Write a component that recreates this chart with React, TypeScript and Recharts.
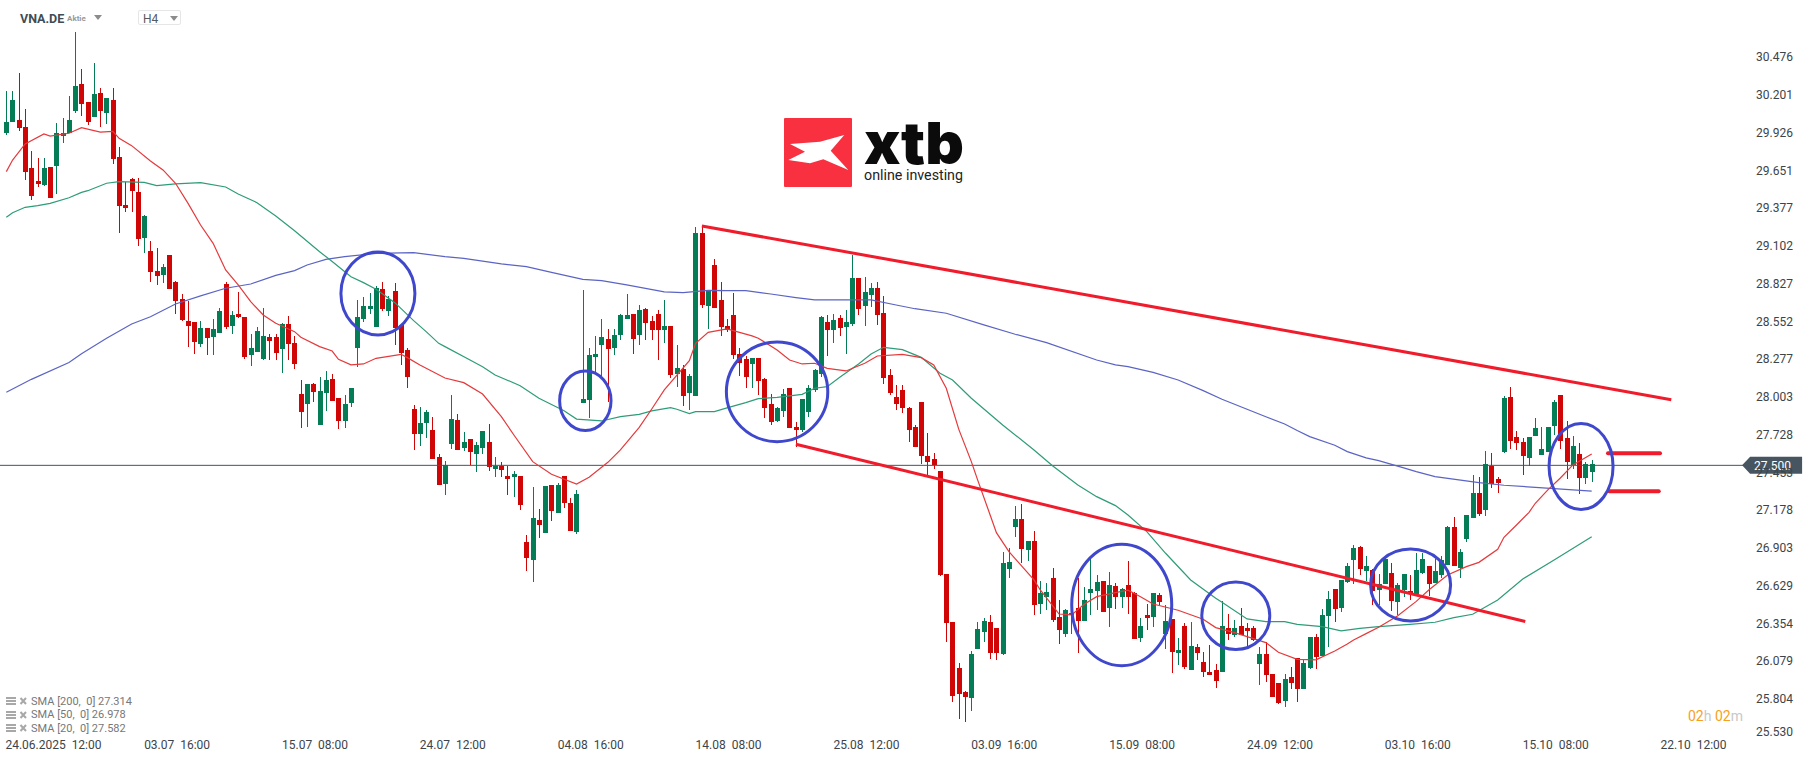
import { ComposedChart, Bar, Line, XAxis, YAxis, ReferenceLine, ReferenceDot } from "recharts";

// OHLC per H4 candle
const highs = [
  30.225,30.225,30.356,30.094,29.788,29.737,29.737,29.672,29.992,30.028,
  30.188,30.654,30.385,30.145,30.428,30.247,30.174,30.247,29.817,29.562,
  29.592,29.592,29.322,29.133,29.082,28.966,29.031,28.842,28.747,28.696,
  28.543,28.551,28.500,28.565,28.645,28.835,28.623,28.762,28.580,28.456,
  28.507,28.645,28.456,28.456,28.536,28.587,28.442,28.121,28.092,28.099,
  28.143,28.187,28.165,27.990,28.012,28.063,28.704,28.725,28.755,28.805,
  28.835,28.733,28.827,28.522,28.354,27.939,27.925,27.903,27.852,27.583,
  27.532,28.012,27.874,27.743,27.692,27.670,27.750,27.801,27.561,27.525,
  27.495,27.459,27.423,26.993,27.343,27.182,27.350,27.357,27.372,27.423,
  27.263,27.321,28.776,28.354,28.442,28.565,28.493,28.493,28.602,28.747,
  28.602,28.667,28.645,28.587,28.631,28.704,28.514,28.376,28.231,28.165,
  29.237,29.249,28.776,29.002,28.835,28.565,28.755,28.354,28.296,28.281,
  28.281,28.136,28.019,27.925,28.056,28.063,27.816,27.983,28.085,28.201,
  28.587,28.594,28.602,28.594,28.631,29.031,28.864,28.871,28.827,28.835,
  28.733,28.201,28.085,28.085,27.925,27.794,27.961,27.736,27.590,27.459,
  26.709,26.360,26.062,25.858,26.149,26.360,26.389,26.411,26.317,26.869,
  26.899,27.204,27.219,26.950,27.022,26.658,26.644,26.753,26.520,26.455,
  26.460,26.680,26.615,26.819,26.702,26.658,26.724,26.644,26.608,26.804,
  26.578,26.389,26.491,26.571,26.571,26.484,26.382,26.244,26.353,26.360,
  26.200,26.142,26.193,26.054,26.513,26.418,26.375,26.462,26.353,26.331,
  26.178,26.214,25.982,25.916,25.982,26.032,26.098,26.091,26.251,26.273,
  26.455,26.586,26.600,26.666,26.789,26.920,26.913,26.840,26.746,26.709,
  26.826,26.789,26.644,26.709,26.702,26.862,26.862,26.767,26.819,26.840,
  27.059,27.124,26.891,27.139,27.430,27.415,27.605,27.590,27.415,28.005,
  28.070,27.750,27.699,27.706,27.845,27.779,27.779,27.976,28.012,27.823,
  27.714,27.663,27.525,27.539,
];
const lows = [
  29.904,29.999,29.934,29.577,29.431,29.526,29.533,29.446,29.475,29.846,
  29.917,30.065,30.043,29.977,30.035,29.963,29.985,29.693,29.191,29.344,
  29.344,29.097,29.046,28.835,28.813,28.827,28.784,28.602,28.551,28.362,
  28.311,28.362,28.303,28.303,28.463,28.493,28.456,28.573,28.274,28.223,
  28.325,28.267,28.267,28.267,28.172,28.267,28.201,27.772,27.779,27.961,
  27.794,27.896,27.969,27.765,27.772,27.925,28.216,28.543,28.602,28.507,
  28.623,28.587,28.376,28.231,28.063,27.612,27.641,27.699,27.546,27.357,
  27.284,27.619,27.612,27.605,27.503,27.452,27.583,27.459,27.415,27.415,
  27.284,27.270,27.175,26.731,26.651,26.971,27.008,27.095,27.153,27.190,
  27.022,27.001,27.954,27.845,28.165,28.133,27.964,28.303,28.412,28.565,
  28.311,28.376,28.412,28.412,28.267,28.391,28.136,28.070,27.932,27.903,
  28.005,28.645,28.493,28.645,28.442,28.471,28.274,28.151,28.063,28.063,
  28.012,27.845,27.794,27.816,27.852,27.772,27.636,27.743,27.852,28.034,
  28.143,28.296,28.391,28.442,28.311,28.514,28.594,28.514,28.653,28.522,
  28.092,28.012,27.903,27.881,27.670,27.634,27.510,27.423,27.474,26.695,
  26.214,25.778,25.654,25.632,25.712,26.164,26.214,26.091,26.084,26.120,
  26.680,26.979,26.789,26.804,26.411,26.418,26.447,26.360,26.200,26.251,
  26.273,26.134,26.367,26.411,26.447,26.433,26.324,26.455,26.462,26.418,
  26.236,26.214,26.302,26.324,26.484,26.164,25.989,26.047,26.018,26.011,
  26.084,25.960,25.974,25.880,25.996,26.229,26.251,26.266,26.171,26.222,
  25.902,25.923,25.814,25.763,25.741,25.872,25.778,25.872,26.018,26.018,
  26.113,26.178,26.360,26.433,26.644,26.637,26.702,26.658,26.484,26.484,
  26.637,26.440,26.411,26.542,26.520,26.557,26.709,26.549,26.644,26.680,
  26.775,26.767,26.680,26.942,27.117,27.132,27.132,27.335,27.299,27.590,
  27.619,27.612,27.430,27.495,27.714,27.576,27.597,27.721,27.619,27.401,
  27.474,27.292,27.364,27.379,
];
const opens = [
  29.919,29.999,30.014,29.963,29.664,29.570,29.541,29.672,29.679,29.897,
  29.919,30.079,30.276,30.145,30.035,30.210,30.065,30.159,29.744,29.395,
  29.584,29.490,29.155,29.060,28.915,28.886,29.031,28.835,28.711,28.551,
  28.543,28.383,28.500,28.434,28.463,28.820,28.514,28.602,28.580,28.303,
  28.325,28.274,28.434,28.434,28.347,28.529,28.391,28.019,27.947,28.092,
  27.794,28.027,28.129,27.990,27.823,27.954,28.354,28.565,28.638,28.507,
  28.784,28.623,28.769,28.522,28.340,27.910,27.728,27.808,27.757,27.561,
  27.364,27.656,27.830,27.626,27.692,27.583,27.626,27.670,27.474,27.495,
  27.423,27.415,27.423,26.942,26.811,27.103,27.008,27.357,27.153,27.423,
  27.226,27.015,27.954,27.976,28.289,28.376,28.420,28.354,28.449,28.565,
  28.602,28.449,28.638,28.551,28.602,28.485,28.514,28.165,28.201,28.027,
  28.005,29.191,28.660,28.958,28.704,28.514,28.594,28.311,28.274,28.238,
  28.281,28.129,27.947,27.823,27.896,28.063,27.779,27.757,27.889,28.049,
  28.165,28.543,28.485,28.573,28.507,28.529,28.864,28.660,28.740,28.791,
  28.609,28.158,27.998,28.049,27.918,27.779,27.961,27.568,27.546,27.459,
  26.709,26.360,26.025,25.851,25.807,26.164,26.287,26.360,26.317,26.127,
  26.746,27.052,27.110,26.884,26.950,26.491,26.542,26.680,26.397,26.273,
  26.409,26.462,26.367,26.571,26.586,26.658,26.462,26.622,26.542,26.629,
  26.571,26.244,26.411,26.397,26.557,26.273,26.382,26.134,26.331,26.011,
  26.178,26.069,25.996,26.011,25.996,26.317,26.266,26.331,26.317,26.317,
  26.054,26.127,25.982,25.916,25.785,25.960,26.098,25.872,26.025,26.251,
  26.113,26.404,26.600,26.462,26.651,26.811,26.906,26.731,26.739,26.593,
  26.637,26.717,26.506,26.593,26.586,26.564,26.717,26.767,26.644,26.702,
  26.775,27.052,26.753,26.964,27.117,27.299,27.175,27.495,27.401,27.597,
  27.998,27.706,27.670,27.554,27.714,27.576,27.597,27.787,28.012,27.699,
  27.503,27.583,27.408,27.452,
];
const closes = [
  29.999,30.159,29.955,29.635,29.460,29.548,29.664,29.446,29.917,29.917,
  30.014,30.261,30.130,29.999,30.203,30.079,30.174,29.730,29.388,29.373,
  29.497,29.148,29.315,28.907,28.878,28.944,28.784,28.696,28.558,28.514,
  28.398,28.500,28.427,28.493,28.623,28.507,28.594,28.580,28.289,28.354,
  28.478,28.442,28.405,28.318,28.529,28.383,28.238,27.889,28.092,28.034,
  28.041,28.121,27.969,27.823,27.947,28.063,28.580,28.660,28.660,28.791,
  28.638,28.711,28.500,28.318,28.143,27.728,27.808,27.889,27.546,27.357,
  27.500,27.837,27.612,27.670,27.597,27.648,27.750,27.488,27.495,27.466,
  27.401,27.437,27.212,26.826,27.117,27.066,27.350,27.168,27.357,27.226,
  27.022,27.292,27.983,28.303,28.311,28.434,28.347,28.449,28.594,28.594,
  28.420,28.631,28.536,28.485,28.485,28.514,28.158,28.209,28.005,28.151,
  29.191,28.667,28.769,28.645,28.507,28.485,28.303,28.245,28.143,28.281,
  28.114,27.918,27.816,27.918,28.019,27.772,27.757,27.983,28.063,28.194,
  28.580,28.485,28.558,28.500,28.543,28.864,28.638,28.762,28.791,28.594,
  28.136,28.027,27.947,27.918,27.757,27.634,27.568,27.525,27.503,26.702,
  26.353,25.822,25.836,25.814,26.127,26.309,26.367,26.134,26.134,26.789,
  26.797,27.110,26.891,26.950,26.484,26.571,26.578,26.375,26.302,26.447,
  26.423,26.367,26.520,26.600,26.651,26.433,26.629,26.542,26.600,26.542,
  26.236,26.331,26.389,26.571,26.506,26.367,26.142,26.156,26.032,26.185,
  26.134,25.996,25.974,25.931,26.331,26.273,26.317,26.266,26.295,26.229,
  26.127,25.974,25.814,25.771,25.945,25.916,25.872,26.062,26.251,26.105,
  26.411,26.527,26.455,26.666,26.767,26.899,26.746,26.767,26.586,26.637,
  26.819,26.513,26.629,26.709,26.564,26.739,26.819,26.637,26.731,26.811,
  27.052,26.767,26.869,27.139,27.299,27.146,27.510,27.364,27.372,27.990,
  27.677,27.663,27.568,27.706,27.772,27.619,27.779,27.961,27.677,27.525,
  27.641,27.408,27.510,27.510,
];

// moving averages, [candle index, price], read at the visible bends
const sma20: [number, number][] = [
  [0,29.638],[1,29.722],[3,29.839],[6,29.912],[7,29.897],[10,29.917],[12,29.958],[15,29.926],[17,29.931],[18,29.880],
  [20,29.827],[23,29.715],[25,29.650],[27,29.553],[29,29.407],[31,29.249],[33,29.116],[35,28.922],[37,28.813],[39,28.691],
  [41,28.594],[43,28.534],[46,28.473],[47,28.432],[50,28.364],[52,28.332],[53,28.272],[55,28.231],[57,28.238],[59,28.279],
  [63,28.308],[64,28.284],[66,28.231],[70,28.136],[73,28.102],[76,28.019],[79,27.854],[81,27.721],[84,27.527],[87,27.435],
  [91,27.364],[93,27.413],[96,27.522],[98,27.612],[101,27.777],[103,27.910],[105,28.049],[109,28.262],[110,28.388],[112,28.468],
  [115,28.493],[119,28.442],[120,28.425],[123,28.340],[125,28.267],[127,28.238],[129,28.243],[131,28.206],[134,28.187],[137,28.243],
  [139,28.296],[143,28.308],[146,28.284],[148,28.231],[150,28.061],[152,27.762],[154,27.527],[155,27.394],[157,27.139],[158,27.010],
  [160,26.872],[164,26.666],[165,26.593],[168,26.418],[170,26.411],[172,26.489],[174,26.544],[177,26.574],[179,26.591],[181,26.544],
  [183,26.491],[187,26.445],[191,26.380],[193,26.319],[196,26.282],[201,26.210],[203,26.139],[206,26.088],[209,26.084],[212,26.149],
  [214,26.200],[215,26.229],[217,26.275],[219,26.321],[222,26.404],[225,26.510],[227,26.593],[230,26.702],[233,26.763],[235,26.794],
  [238,26.889],[239,26.976],[241,27.066],[243,27.158],[244,27.224],[246,27.321],[248,27.408],[250,27.503],[253,27.583],
];
const sma50: [number, number][] = [
  [0,29.305],[1,29.339],[3,29.378],[5,29.390],[7,29.407],[10,29.448],[12,29.487],[13,29.499],[16,29.553],[18,29.565],
  [22,29.560],[24,29.536],[27,29.548],[31,29.558],[35,29.526],[37,29.475],[40,29.412],[43,29.315],[46,29.208],[50,29.055],
  [52,28.983],[55,28.873],[57,28.830],[59,28.781],[62,28.684],[65,28.553],[67,28.473],[69,28.388],[70,28.364],[74,28.267],
  [76,28.218],[78,28.158],[82,28.080],[85,27.988],[89,27.898],[91,27.837],[95,27.823],[98,27.854],[101,27.871],[103,27.896],
  [106,27.920],[107,27.908],[109,27.876],[110,27.891],[113,27.891],[115,27.918],[118,27.956],[120,27.985],[123,27.995],[127,28.017],
  [129,28.061],[131,28.073],[133,28.141],[136,28.238],[138,28.311],[140,28.359],[143,28.342],[146,28.286],[149,28.170],[151,28.121],
  [154,27.988],[159,27.794],[164,27.612],[167,27.495],[171,27.357],[174,27.272],[177,27.207],[179,27.139],[182,27.018],[185,26.860],
  [189,26.666],[193,26.532],[194,26.503],[198,26.382],[201,26.363],[204,26.363],[206,26.343],[210,26.326],[213,26.295],[216,26.314],
  [219,26.326],[224,26.343],[228,26.358],[231,26.391],[234,26.416],[238,26.520],[242,26.673],[247,26.811],[253,26.981],
];
const sma200: [number, number][] = [
  [0,28.032],[4,28.126],[10,28.248],[12,28.313],[16,28.425],[20,28.529],[23,28.582],[27,28.674],[31,28.733],[35,28.789],
  [39,28.820],[43,28.883],[46,28.917],[48,28.958],[51,28.999],[54,29.019],[59,29.043],[65,29.048],[70,29.019],[73,29.007],
  [79,28.966],[83,28.946],[87,28.905],[92,28.854],[95,28.844],[99,28.813],[105,28.762],[108,28.757],[112,28.774],[115,28.771],
  [118,28.771],[122,28.747],[126,28.721],[129,28.704],[138,28.704],[142,28.667],[145,28.640],[150,28.607],[156,28.522],[161,28.454],
  [166,28.393],[174,28.267],[177,28.231],[179,28.218],[183,28.177],[187,28.121],[191,28.044],[194,27.981],[198,27.908],[201,27.854],
  [204,27.801],[206,27.753],[208,27.709],[212,27.646],[214,27.600],[217,27.554],[219,27.534],[223,27.481],[225,27.454],[228,27.418],
  [235,27.374],[239,27.355],[244,27.340],[253,27.313],
];

const priceTicks = [30.476,30.201,29.926,29.651,29.377,29.102,28.827,28.552,28.277,28.003,27.728,27.453,27.178,26.903,26.629,26.354,26.079,25.804,25.530];
const timeTicks = [8,27,49,71,93,115,137,159,181,203,225,247,269];
const timeLabels = ["24.06.2025  12:00","03.07  16:00","15.07  08:00","24.07  12:00","04.08  16:00","14.08  08:00","25.08  12:00","03.09  16:00","15.09  08:00","24.09  12:00","03.10  16:00","15.10  08:00","22.10  12:00"];
const legendRows = ["SMA [200,  0] 27.314", "SMA [50,  0] 26.978", "SMA [20,  0] 27.582"];

const lastPrice = 27.5;
// hand drawn annotations: [candle index, price]
const channelTop = [[111, 29.242], [265.7, 27.978]];
const channelBottom = [[126, 27.653], [242.4, 26.363]];
const targetUpper = [[255.6, 27.588], [263.9, 27.588]];
const targetLower = [[255.8, 27.311], [263.7, 27.311]];
const circles = [
  { i: 59.3, price: 28.751, rx: 37, ry: 41.5 },
  { i: 92.4, price: 27.97, rx: 25.7, ry: 29.8 },
  { i: 123, price: 28.035, rx: 50.7, ry: 49.8 },
  { i: 178, price: 26.484, rx: 50, ry: 60.7 },
  { i: 196.2, price: 26.405, rx: 34, ry: 33.8 },
  { i: 224.1, price: 26.629, rx: 40, ry: 36 },
  { i: 251.3, price: 27.491, rx: 32, ry: 43 },
];

const UP = "#047d56";
const DOWN = "#d00505";
const TREND = "#f01c2c";
const CIRCLE = "#3f48cc";
const FONT = "Roboto, sans-serif";

const lookup = (series: [number, number][]) => new Map(series);
const sma20ByIndex = lookup(sma20);
const sma50ByIndex = lookup(sma50);
const sma200ByIndex = lookup(sma200);

const rows = highs.map((high, i) => ({
  i,
  high,
  low: lows[i],
  open: opens[i],
  close: closes[i],
  sma20: sma20ByIndex.get(i) ?? null,
  sma50: sma50ByIndex.get(i) ?? null,
  sma200: sma200ByIndex.get(i) ?? null,
}));

function Candle(props: any) {
  const { x, y, width, height, payload } = props;
  const range = payload.high - payload.low;
  const pxPerUnit = Math.abs(height) / range;
  const bodyTop = y + (payload.high - Math.max(payload.open, payload.close)) * pxPerUnit;
  const bodyBottom = y + (payload.high - Math.min(payload.open, payload.close)) * pxPerUnit;
  const col = Math.floor(x + width / 2);
  const fill = payload.close >= payload.open ? UP : DOWN;
  return (
    <g shapeRendering="crispEdges">
      <rect x={col} y={y} width={1} height={Math.abs(height)} fill={fill} />
      <rect x={col - 2} y={bodyTop} width={5} height={Math.max(bodyBottom - bodyTop, 1)} fill={fill} />
    </g>
  );
}

function PriceTick({ x, y, payload }: any) {
  // the lowest label sits a little higher so it stays above the time axis
  const shift = payload.value === 25.53 ? -4 : 0.8;
  return (
    <text x={x - 6} y={y + shift} dominantBaseline="central" textAnchor="start" fontFamily={FONT} fontSize={12} fill="#3c4449">
      {payload.value.toFixed(3)}
    </text>
  );
}

function TimeTick({ x, payload, index }: any) {
  return (
    <text
      x={x + (index === 0 ? -3 : 1.6)}
      y={745}
      dominantBaseline="central"
      textAnchor="middle"
      fontFamily={FONT}
      fontSize={12}
      fill="#3c4449"
      style={{ whiteSpace: "pre" }}
    >
      {timeLabels[timeTicks.indexOf(payload.value)]}
    </text>
  );
}

function PriceFlag({ cx, cy }: any) {
  return (
    <g>
      <polygon
        points={`${cx},${cy} ${cx + 8},${cy - 8.5} ${cx + 60},${cy - 8.5} ${cx + 60},${cy + 8.5} ${cx + 8},${cy + 8.5}`}
        fill="#46555f"
      />
      <text x={cx + 12} y={cy + 1} dominantBaseline="central" fontFamily={FONT} fontSize={12} fill="#ffffff">
        {lastPrice.toFixed(3)}
      </text>
    </g>
  );
}

function Logo() {
  return (
    <svg width={220} height={100} style={{ position: "absolute", left: 760, top: 100 }}>
      <rect x={24} y={18} width={68} height={69} rx={1} fill="#f8303f" />
      <polygon
        points="28.3,60 45,51.7 30,44 60,41.7 84.3,35 70.7,50.7 88.3,70 63.3,59.3 50,63.3"
        fill="#ffffff"
      />
      <text x={104} y={64} fontFamily="Inter, sans-serif" fontWeight={900} fontSize={58} textLength={100} lengthAdjust="spacingAndGlyphs" fill="#0b0b0b">
        xtb
      </text>
      <text x={104} y={80} fontFamily={FONT} fontSize={15} textLength={99} lengthAdjust="spacingAndGlyphs" fill="#222222">
        online investing
      </text>
    </svg>
  );
}

function Caret({ x, y }: { x: number; y: number }) {
  return (
    <svg width={8} height={5} style={{ position: "absolute", left: x, top: y }}>
      <polygon points="0,0 8,0 4,5" fill="#8c8c8c" />
    </svg>
  );
}

function Header() {
  return (
    <>
      <div style={{ position: "absolute", left: 20, top: 10, fontFamily: FONT, fontWeight: 700, fontSize: 12.5, lineHeight: "17px", color: "#414c54" }}>
        VNA.DE
      </div>
      <div style={{ position: "absolute", left: 67, top: 13, fontFamily: FONT, fontWeight: 700, fontSize: 8, lineHeight: "12px", color: "#9a9a9a" }}>
        Aktie
      </div>
      <Caret x={94} y={15} />
      <div style={{ position: "absolute", left: 138, top: 10, width: 43, height: 15, border: "1px solid #e6e6e6", borderRadius: 2, boxSizing: "border-box" }} />
      <div style={{ position: "absolute", left: 143, top: 11, fontFamily: FONT, fontSize: 12, lineHeight: "16px", color: "#555b60" }}>H4</div>
      <Caret x={170} y={16} />
    </>
  );
}

function SmaLegend() {
  return (
    <>
      {legendRows.map((label, n) => (
        <div key={label} style={{ position: "absolute", left: 6, top: 694 + n * 13.5, height: 14, display: "flex", alignItems: "center", fontFamily: FONT, fontSize: 11, color: "#777777", whiteSpace: "pre" }}>
          <svg width={25} height={10}>
            <rect x={0} y={1} width={10} height={2} fill="#a8a8a8" />
            <rect x={0} y={4} width={10} height={2} fill="#a8a8a8" />
            <rect x={0} y={7} width={10} height={2} fill="#a8a8a8" />
            <path d="M14.5 2 L20 8 M20 2 L14.5 8" stroke="#a8a8a8" strokeWidth={2} />
          </svg>
          {label}
        </div>
      ))}
    </>
  );
}

function Countdown() {
  return (
    <div style={{ position: "absolute", left: 1688, top: 707, fontFamily: FONT, fontSize: 14, lineHeight: "18px", color: "#c8c8c8", whiteSpace: "pre" }}>
      <span style={{ color: "#f7a11a" }}>02</span>h <span style={{ color: "#f7a11a" }}>02</span>m
    </div>
  );
}

const segment = (pts: number[][]) => pts.map(([x, y]) => ({ x, y }));

export default function App() {
  return (
    <div style={{ position: "absolute", left: 0, top: 0, width: 1815, height: 761, background: "#ffffff", overflow: "hidden" }}>
      <ComposedChart width={1815} height={761} data={rows} margin={{ top: 0, right: 0, bottom: 0, left: 0 }}>
        <XAxis
          dataKey="i"
          type="number"
          domain={[-1.01, 278.9]}
          allowDataOverflow
          ticks={timeTicks}
          interval={0}
          height={25}
          axisLine={false}
          tickLine={false}
          tick={<TimeTick />}
        />
        <YAxis
          orientation="right"
          type="number"
          domain={[25.53, 30.887]}
          allowDataOverflow
          ticks={priceTicks}
          interval={0}
          width={61}
          axisLine={false}
          tickLine={false}
          tick={<PriceTick />}
        />
        <ReferenceLine y={lastPrice} stroke="#47525a" strokeWidth={1} />
        <Bar dataKey={(d: any) => [d.low, d.high]} barSize={5} shape={<Candle />} isAnimationActive={false} />
        <Line dataKey="sma200" stroke="#5b64c4" strokeWidth={1.2} dot={false} activeDot={false} connectNulls isAnimationActive={false} />
        <Line dataKey="sma50" stroke="#2e9c78" strokeWidth={1.2} dot={false} activeDot={false} connectNulls isAnimationActive={false} />
        <Line dataKey="sma20" stroke="#e5393b" strokeWidth={1.2} dot={false} activeDot={false} connectNulls isAnimationActive={false} />
        <ReferenceLine segment={segment(channelTop)} stroke={TREND} strokeWidth={3} />
        <ReferenceLine segment={segment(channelBottom)} stroke={TREND} strokeWidth={3} />
        <ReferenceLine segment={segment(targetUpper)} stroke={TREND} strokeWidth={4} strokeLinecap="round" />
        <ReferenceLine segment={segment(targetLower)} stroke={TREND} strokeWidth={4} strokeLinecap="round" />
        {circles.map((c) => (
          <ReferenceDot
            key={c.i}
            x={c.i}
            y={c.price}
            r={1}
            shape={(p: any) => <ellipse cx={p.cx} cy={p.cy} rx={c.rx} ry={c.ry} fill="none" stroke={CIRCLE} strokeWidth={3} />}
          />
        ))}
        <ReferenceDot x={277} y={lastPrice} r={1} ifOverflow="visible" shape={<PriceFlag />} />
      </ComposedChart>
      <Logo />
      <Header />
      <SmaLegend />
      <Countdown />
    </div>
  );
}
